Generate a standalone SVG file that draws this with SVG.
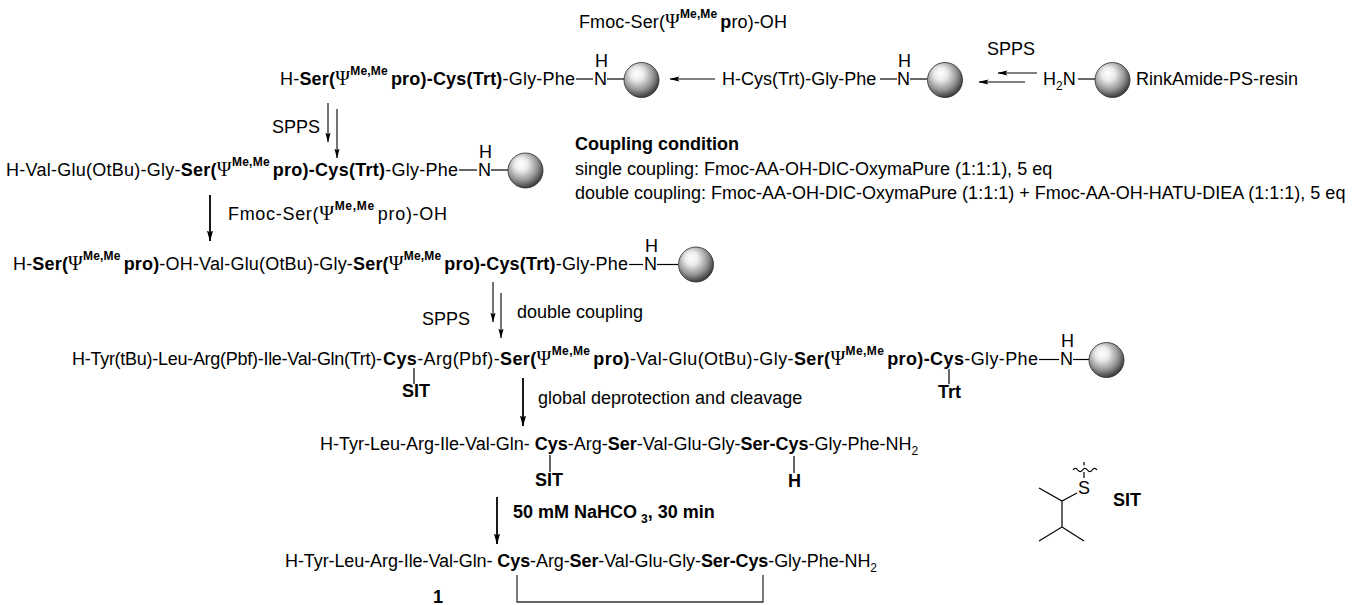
<svg xmlns="http://www.w3.org/2000/svg" width="1359" height="605" viewBox="0 0 1359 605">
  <defs>
    <style>
      .t { font-family: "Liberation Sans", Arial, sans-serif; font-size: 18px; fill: #000; }
      .b { font-weight: bold; }
      .psi { font-family: "Liberation Serif", "Times New Roman", serif; font-size: 20px; font-weight: normal; }
      .sup { font-size: 12px; font-weight: bold; }
      .sub { font-size: 12px; }
      .bond { stroke: #000; stroke-width: 1.2; fill: none; }
      .arr { stroke: #000; stroke-width: 1.1; fill: none; marker-end: url(#head); }
      .arrb { stroke: #000; stroke-width: 1.8; fill: none; marker-end: url(#headb); }
      .bead { fill: url(#beadFill); stroke: #2a2a2a; stroke-width: 0.8; }
    </style>
    <radialGradient id="beadFill" cx="0.42" cy="0.38" r="0.62" fx="0.36" fy="0.3">
      <stop offset="0" stop-color="#ffffff"/>
      <stop offset="0.3" stop-color="#ececec"/>
      <stop offset="0.7" stop-color="#959595"/>
      <stop offset="1" stop-color="#3c3c3c"/>
    </radialGradient>
    <marker id="head" markerUnits="userSpaceOnUse" markerWidth="10" markerHeight="6" refX="9.5" refY="3" orient="auto">
      <path d="M0,0.4 L10,3 L0,5.6 L2,3 z" fill="#000"/>
    </marker>
    <marker id="headb" markerUnits="userSpaceOnUse" markerWidth="11" markerHeight="7" refX="10.5" refY="3.5" orient="auto">
      <path d="M0,0.4 L11,3.5 L0,6.6 L2,3.5 z" fill="#000"/>
    </marker>
  </defs>
  <rect width="1359" height="605" fill="#fff"/>

  <!-- reagent over the first coupling arrow -->
  <g id="reagent-top">
    <text class="t" x="579" y="28" textLength="208" lengthAdjust="spacing">Fmoc-Ser(<tspan class="psi">Ψ</tspan><tspan class="sup" dy="-10">Me,Me</tspan><tspan class="b" dy="10" dx="3">p</tspan>ro)-OH</text>
  </g>

  <!-- resin start -->
  <g id="resin">
    <text class="t" x="1043" y="85">H<tspan class="sub" dy="5">2</tspan><tspan dy="-5">N</tspan></text>
    <line class="bond" x1="1078" y1="79" x2="1095" y2="79"/>
    <circle class="bead" cx="1112.5" cy="80" r="17.5"/>
    <text class="t" x="1136" y="85">RinkAmide-PS-resin</text>
  </g>

  <!-- H-Cys(Trt)-Gly-Phe on resin -->
  <g id="peptide-1">
    <text class="t" x="722" y="85">H-Cys(Trt)-Gly-Phe</text>
    <line class="bond" x1="880" y1="79" x2="897" y2="79"/>
    <text class="t"><tspan x="898" y="67">H</tspan><tspan x="897" y="85">N</tspan></text>
    <line class="bond" x1="910" y1="79" x2="927" y2="79"/>
    <circle class="bead" cx="945" cy="80" r="17.5"/>
  </g>

  <!-- Ser(psi)-Cys(Trt)-Gly-Phe on resin -->
  <g id="peptide-2">
    <text class="t" x="280" y="85" textLength="295" lengthAdjust="spacing">H-<tspan class="b">Ser(</tspan><tspan class="psi">Ψ</tspan><tspan class="sup" dy="-10">Me,Me</tspan><tspan class="b" dy="10" dx="3">pro)-Cys(Trt)</tspan>-Gly-Phe</text>
    <line class="bond" x1="576" y1="79" x2="593" y2="79"/>
    <text class="t"><tspan x="595" y="67">H</tspan><tspan x="594" y="85">N</tspan></text>
    <line class="bond" x1="607" y1="79" x2="624" y2="79"/>
    <circle class="bead" cx="641.5" cy="80" r="17.5"/>
  </g>

  <!-- coupling conditions -->
  <g id="conditions">
    <text class="t b" x="575" y="150">Coupling condition</text>
    <text class="t" x="575" y="175">single coupling:  Fmoc-AA-OH-DIC-OxymaPure (1:1:1), 5 eq</text>
    <text class="t" x="575" y="199">double coupling: Fmoc-AA-OH-DIC-OxymaPure (1:1:1) + Fmoc-AA-OH-HATU-DIEA (1:1:1), 5 eq</text>
  </g>

  <!-- Val-Glu-Gly extended chain -->
  <g id="peptide-3">
    <text class="t" x="6" y="176" textLength="452" lengthAdjust="spacing">H-Val-Glu(OtBu)-Gly-<tspan class="b">Ser(</tspan><tspan class="psi">Ψ</tspan><tspan class="sup" dy="-10">Me,Me</tspan><tspan class="b" dy="10" dx="3">pro)-Cys(Trt)</tspan>-Gly-Phe</text>
    <line class="bond" x1="459" y1="170" x2="477" y2="170"/>
    <text class="t"><tspan x="479" y="158">H</tspan><tspan x="478" y="176">N</tspan></text>
    <line class="bond" x1="491" y1="170" x2="508" y2="170"/>
    <circle class="bead" cx="525.5" cy="170.5" r="17.5"/>
  </g>

  <!-- second pseudoproline added -->
  <g id="peptide-4">
    <text class="t" x="13" y="270" textLength="615" lengthAdjust="spacing">H-<tspan class="b">Ser(</tspan><tspan class="psi">Ψ</tspan><tspan class="sup" dy="-10">Me,Me</tspan><tspan class="b" dy="10" dx="3">pro)</tspan>-OH-Val-Glu(OtBu)-Gly-<tspan class="b">Ser(</tspan><tspan class="psi">Ψ</tspan><tspan class="sup" dy="-10">Me,Me</tspan><tspan class="b" dy="10" dx="3">pro)-Cys(Trt)</tspan>-Gly-Phe</text>
    <line class="bond" x1="629" y1="264.5" x2="643" y2="264.5"/>
    <text class="t"><tspan x="645" y="252">H</tspan><tspan x="644" y="270">N</tspan></text>
    <line class="bond" x1="657" y1="264.5" x2="678" y2="264.5"/>
    <circle class="bead" cx="696" cy="264.5" r="17.5"/>
  </g>

  <!-- full protected sequence on resin -->
  <g id="peptide-5">
    <text class="t" x="72" y="365" textLength="310" lengthAdjust="spacing">H-Tyr(tBu)-Leu-Arg(Pbf)-Ile-Val-Gln(Trt)- </text>
    <text class="t" x="383" y="365" textLength="655" lengthAdjust="spacing"><tspan class="b">Cys</tspan>-Arg(Pbf)-<tspan class="b">Ser(</tspan><tspan class="psi">Ψ</tspan><tspan class="sup" dy="-10">Me,Me</tspan><tspan class="b" dy="10" dx="3">pro)</tspan>-Val-Glu(OtBu)-Gly-<tspan class="b">Ser(</tspan><tspan class="psi">Ψ</tspan><tspan class="sup" dy="-10">Me,Me</tspan><tspan class="b" dy="10" dx="3">pro)-Cys</tspan>-Gly-Phe</text>
    <line class="bond" x1="414" y1="368" x2="414" y2="384"/>
    <text class="t b" x="402" y="397">SIT</text>
    <line class="bond" x1="949" y1="369" x2="949" y2="384"/>
    <text class="t b" x="938" y="398">Trt</text>
    <line class="bond" x1="1039" y1="359.5" x2="1059" y2="359.5"/>
    <text class="t"><tspan x="1061" y="347">H</tspan><tspan x="1060" y="365">N</tspan></text>
    <line class="bond" x1="1073" y1="359.5" x2="1089" y2="359.5"/>
    <circle class="bead" cx="1106.5" cy="360" r="17.5"/>
  </g>

  <!-- cleaved linear peptide -->
  <g id="peptide-6">
    <text class="t" x="320" y="450">H-Tyr-Leu-Arg-Ile-Val-Gln- <tspan class="b">Cys</tspan>-Arg-<tspan class="b">Ser</tspan>-Val-Glu-Gly-<tspan class="b">Ser-Cys</tspan>-Gly-Phe-NH<tspan class="sub" dy="5">2</tspan></text>
    <line class="bond" x1="550" y1="455" x2="550" y2="472"/>
    <text class="t b" x="535" y="486">SIT</text>
    <line class="bond" x1="794" y1="456" x2="794" y2="473"/>
    <text class="t b" x="788" y="487">H</text>
  </g>

  <!-- cyclic product 1 -->
  <g id="product-1">
    <text class="t" x="285" y="567" textLength="592" lengthAdjust="spacing">H-Tyr-Leu-Arg-Ile-Val-Gln- <tspan class="b">Cys</tspan>-Arg-<tspan class="b">Ser</tspan>-Val-Glu-Gly-<tspan class="b">Ser-Cys</tspan>-Gly-Phe-NH<tspan class="sub" dy="5">2</tspan></text>
    <path d="M517,575 V602 H763 V575" stroke="#333" stroke-width="1.3" fill="none"/>
    <text class="t b" x="433" y="603">1</text>
  </g>

  <!-- SIT protecting group -->
  <g id="sit-group">
    <path class="bond" d="M1073,470 q2.4,-3.2 4.8,0 t4.8,0 t4.8,0 t4.8,0 t4.8,0"/>
    <line class="bond" x1="1084" y1="462" x2="1084" y2="465.5" stroke-width="0.8"/>
    <line class="bond" x1="1084" y1="472" x2="1084" y2="478"/>
    <text class="t" x="1078" y="494">S</text>
    <path class="bond" d="M1077,493 L1062,501 L1039,488 M1062,501 L1062,527 L1039,541 M1062,527 L1084,541"/>
    <text class="t b" x="1113" y="506">SIT</text>
  </g>

  <!-- reaction arrows -->
  <g id="connectors">
    <line class="arr" x1="715" y1="79" x2="670" y2="79"/>
    <line class="arr" x1="1037" y1="73" x2="998" y2="73"/>
    <line class="arr" x1="1025" y1="82" x2="979" y2="82"/>
    <text class="t" x="987" y="55">SPPS</text>

    <line class="arr" x1="328" y1="103" x2="328" y2="142"/>
    <line class="arr" x1="337" y1="109" x2="337" y2="158"/>
    <text class="t" x="272" y="133">SPPS</text>

    <line class="arrb" x1="210" y1="195" x2="210" y2="241"/>
    <text class="t" x="228" y="220" textLength="219" lengthAdjust="spacing">Fmoc-Ser(<tspan class="psi">Ψ</tspan><tspan class="sup" dy="-10">Me,Me</tspan><tspan dy="10" dx="3">pro)-OH</tspan></text>

    <line class="arr" x1="493" y1="282" x2="493" y2="322"/>
    <line class="arr" x1="501" y1="293" x2="501" y2="338"/>
    <text class="t" x="422" y="325">SPPS</text>
    <text class="t" x="517" y="318">double  coupling</text>

    <line class="arrb" x1="523" y1="378" x2="523" y2="426"/>
    <text class="t" x="538" y="404">global deprotection and cleavage</text>

    <line class="arrb" x1="497" y1="497" x2="497" y2="544"/>
    <text class="t b" x="513" y="518">50 mM NaHCO<tspan class="sub" dx="4" dy="5">3</tspan><tspan dy="-5">, 30 min</tspan></text>
  </g>
</svg>
